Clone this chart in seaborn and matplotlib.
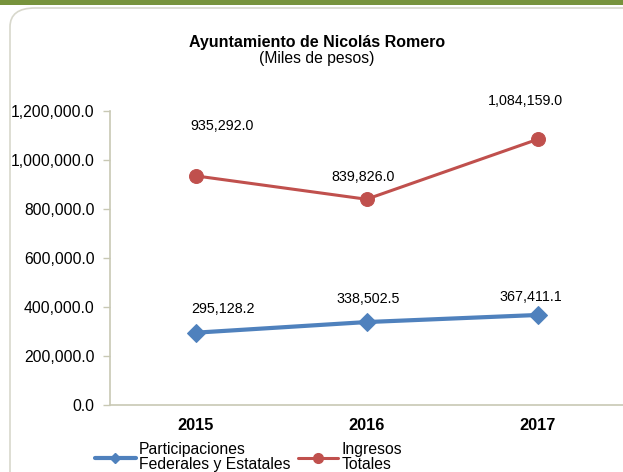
import numpy as np
import pandas as pd
import matplotlib
matplotlib.use("Agg")
import matplotlib.pyplot as plt
import seaborn as sns
from matplotlib.patches import FancyBboxPatch, Rectangle
from matplotlib.lines import Line2D

years = ["2015", "2016", "2017"]
participaciones = [295128.2, 338502.5, 367411.1]
ingresos = [935292.0, 839826.0, 1084159.0]
series_names = ["Participaciones\nFederales y Estatales", "Ingresos\nTotales"]

BLUE = "#4F81BD"
RED = "#C0504D"
SPINE = "#C8C8B4"

sns.set_theme(style="white")
plt.rcParams["font.family"] = ["Liberation Sans", "DejaVu Sans"]
plt.rcParams["text.color"] = "black"
plt.rcParams["xtick.color"] = "black"
plt.rcParams["ytick.color"] = "black"

fig = plt.figure(figsize=(6.23, 4.72), dpi=100)

# frame decoration: green bar on top and rounded box
fig.patches.append(Rectangle((0, 1 - 5 / 472), 1, 5 / 472, transform=fig.transFigure,
                             facecolor="#77933C", edgecolor="none", zorder=-2))
fig.patches.append(FancyBboxPatch((10 / 623, -0.05), 1.3, 1 - 8 / 472 + 0.05,
                                  boxstyle="round,pad=0,rounding_size=0.04",
                                  transform=fig.transFigure, facecolor="white",
                                  edgecolor="#D8D8CC", linewidth=1.2, zorder=-2))

ax = fig.add_axes([110 / 623, 1 - 405 / 472, 1 - 110 / 623, (405 - 111) / 472])
ax.patch.set_alpha(0)

df = pd.DataFrame({"x": range(len(years)), "part": participaciones, "ing": ingresos})
sns.lineplot(data=df, x="x", y="part", ax=ax, color=BLUE, linewidth=3,
             marker="D", markersize=9, markeredgecolor=BLUE)
sns.lineplot(data=df, x="x", y="ing", ax=ax, color=RED, linewidth=2.2,
             marker="o", markersize=10, markeredgecolor=RED)

# data labels (placed like in the original sheet)
part_dx = [27, 2, -7]
part_dy = [24, 23, 18]
ing_dx = [27, -3, -12]
ing_dy = [50, 22, 38]
for i in range(len(years)):
    ax.annotate(f"{participaciones[i]:,.1f}", (i, participaciones[i]),
                xytext=(part_dx[i], part_dy[i]), textcoords="offset pixels",
                ha="center", va="center", fontsize=10.3, color="black")
    ax.annotate(f"{ingresos[i]:,.1f}", (i, ingresos[i]),
                xytext=(ing_dx[i], ing_dy[i]), textcoords="offset pixels",
                ha="center", va="center", fontsize=10.3, color="black")

ax.set_ylim(0, 1200000)
ax.set_yticks(np.arange(0, 1200001, 200000))
ax.set_yticklabels([f"{v:,.1f}" for v in np.arange(0, 1200001, 200000)], fontsize=11.3)
ax.set_xlim(-0.5, 2.32)
ax.set_xticks(range(len(years)))
ax.set_xticklabels(years, fontsize=11.8, fontweight="bold")
ax.set_xticks([-0.5, 0.5, 1.5, 2.5], minor=True)
ax.tick_params(axis="x", which="major", length=0, pad=9)
ax.tick_params(axis="x", which="minor", length=5, width=1, color=SPINE, direction="out")
ax.tick_params(axis="y", length=5, width=1, color=SPINE, direction="out", pad=6, left=True)
ax.set_xlabel("")
ax.set_ylabel("")
ax.grid(False)
for s in ["top", "right"]:
    ax.spines[s].set_visible(False)
for s in ["left", "bottom"]:
    ax.spines[s].set_color(SPINE)
    ax.spines[s].set_linewidth(1.2)

fig.text(317 / 623, 1 - 42 / 472, "Ayuntamiento de Nicolás Romero", ha="center", va="center",
         fontsize=11.5, fontweight="bold")
fig.text(317 / 623, 1 - 59 / 472, "(Miles de pesos)", ha="center", va="center", fontsize=11.3)

handles = [Line2D([], [], color=BLUE, linewidth=3, marker="D", markersize=5),
           Line2D([], [], color=RED, linewidth=2.2, marker="o", markersize=7)]
leg = fig.legend(handles, series_names, loc="center left",
                 bbox_to_anchor=(95 / 623, 1 - 457 / 472), ncol=2, frameon=False,
                 fontsize=11.3, handlelength=2.6, handletextpad=0.2, columnspacing=0.45,
                 borderaxespad=0, borderpad=0, labelspacing=0)
for t in leg.get_texts():
    t.set_linespacing(1.0)

fig.savefig("out.png", dpi=100)
